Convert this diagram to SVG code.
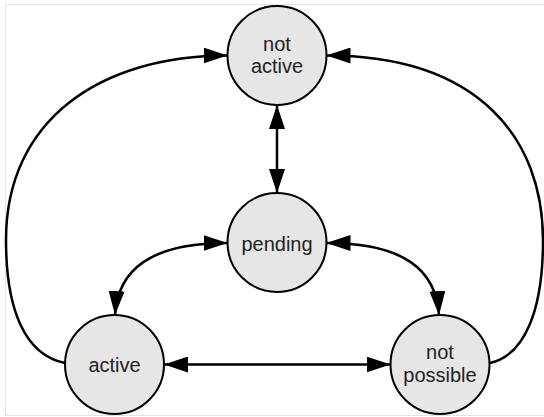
<svg xmlns="http://www.w3.org/2000/svg" width="544" height="417" viewBox="0 0 544 417">
<defs>
<marker id="arr" viewBox="0 0 24 16" refX="24" refY="8" markerWidth="24" markerHeight="16" markerUnits="userSpaceOnUse" orient="auto-start-reverse">
<path d="M0,0 L24,8 L0,16 z" fill="#000"/>
</marker>
<style>
.node circle{fill:#e6e6e6;stroke:#000;stroke-width:2}
.node text{font-family:"Liberation Sans",Arial,sans-serif;font-size:20px;fill:#222;text-anchor:middle}
.edge{fill:none;stroke:#000;stroke-width:2.5}
</style>
</defs>
<rect x="0" y="0" width="544" height="417" fill="#fff"/>
<rect x="5.5" y="4.5" width="560" height="411" fill="none" stroke="#e4e4e4" stroke-width="1"/>
<g id="connectors">
<path class="edge" d="M277,105 L277,193" marker-start="url(#arr)" marker-end="url(#arr)"/>
<path class="edge" d="M164,364.5 L390.5,364.5" marker-start="url(#arr)" marker-end="url(#arr)"/>
<path class="edge" d="M115,315 C118,270 150,243 227.5,243" marker-start="url(#arr)" marker-end="url(#arr)"/>
<path class="edge" d="M439,315 C436,270 404,243 326.5,243" marker-start="url(#arr)" marker-end="url(#arr)"/>
<path class="edge" d="M65,363 C25,355 6,310 6,240 C6,120 100,55.5 227.5,55.5" marker-end="url(#arr)"/>
<path class="edge" d="M490,363 C525,355 543,310 543,240 C543,140 480,55.5 326.5,55.5" marker-end="url(#arr)"/>
</g>
<g id="node-not-active" class="node">
<circle cx="277" cy="55.5" r="49.5"/>
<text x="277" y="50.5">not</text>
<text x="277" y="72.5">active</text>
</g>
<g id="node-pending" class="node">
<circle cx="277" cy="242.5" r="49.5"/>
<text x="277" y="250.5">pending</text>
</g>
<g id="node-active" class="node">
<circle cx="114.5" cy="364.5" r="49.5"/>
<text x="114.5" y="372">active</text>
</g>
<g id="node-not-possible" class="node">
<circle cx="440" cy="364.5" r="49.5"/>
<text x="440" y="359">not</text>
<text x="440" y="381.5">possible</text>
</g>
</svg>
